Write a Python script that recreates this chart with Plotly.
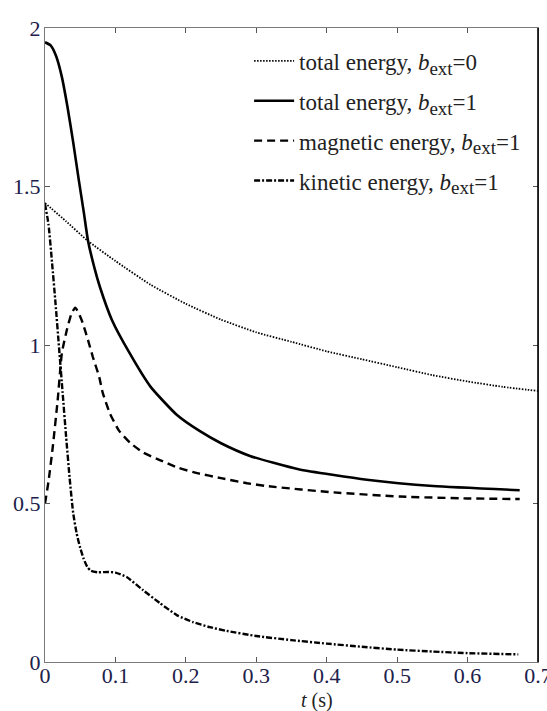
import plotly.graph_objects as go

# ---- data ----
t_total0 = [0, 0.03, 0.06, 0.10, 0.15, 0.20, 0.25, 0.30, 0.35, 0.40, 0.45, 0.50, 0.55, 0.60, 0.65, 0.70]
e_total0 = [1.448, 1.39, 1.33, 1.265, 1.19, 1.13, 1.08, 1.04, 1.01, 0.98, 0.955, 0.93, 0.905, 0.885, 0.868, 0.855]

t_total1 = [0, 0.008, 0.016, 0.024, 0.032, 0.040, 0.048, 0.055, 0.061, 0.070, 0.078, 0.095,
            0.12, 0.15, 0.187, 0.22, 0.25, 0.291, 0.36, 0.457, 0.551, 0.674]
e_total1 = [1.955, 1.945, 1.91, 1.845, 1.75, 1.64, 1.52, 1.42, 1.33, 1.245, 1.183, 1.079,
            0.975, 0.868, 0.78, 0.728, 0.69, 0.65, 0.608, 0.575, 0.555, 0.542]

t_mag1 = [0, 0.005, 0.011, 0.018, 0.024, 0.031, 0.037, 0.043, 0.052, 0.061, 0.068, 0.077, 0.082,
          0.092, 0.105, 0.121, 0.14, 0.163, 0.19, 0.216, 0.25, 0.287, 0.315, 0.41, 0.504, 0.60, 0.674]
e_mag1 = [0.5, 0.57, 0.678, 0.826, 0.975, 1.047, 1.095, 1.118, 1.079, 1.016, 0.962, 0.899, 0.849,
          0.785, 0.73, 0.691, 0.66, 0.637, 0.612, 0.596, 0.58, 0.564, 0.555, 0.535, 0.522, 0.516, 0.514]

t_kin1 = [0, 0.005, 0.010, 0.015, 0.020, 0.025, 0.030, 0.035, 0.040, 0.045, 0.050, 0.055, 0.060,
          0.065, 0.075, 0.090, 0.100, 0.116, 0.139, 0.163, 0.187, 0.21, 0.234, 0.258, 0.30, 0.35,
          0.40, 0.45, 0.50, 0.55, 0.60, 0.672]
e_kin1 = [1.445, 1.38, 1.26, 1.13, 0.99, 0.85, 0.71, 0.58, 0.47, 0.405, 0.36, 0.325, 0.30,
          0.288, 0.283, 0.284, 0.282, 0.268, 0.227, 0.186, 0.148, 0.126, 0.11, 0.098, 0.082, 0.069,
          0.058, 0.048, 0.039, 0.033, 0.028, 0.024]

SUB = '<sub><span style="font-size:19px">ext</span></sub>'
names = [
    "total energy, <i>b</i>" + SUB + "=0",
    "total energy, <i>b</i>" + SUB + "=1",
    "magnetic energy, <i>b</i>" + SUB + "=1",
    "kinetic energy, <i>b</i>" + SUB + "=1",
]

x_ticks = [0, 0.1, 0.2, 0.3, 0.4, 0.5, 0.6, 0.7]
x_ticktext = ["0", "0.1", "0.2", "0.3", "0.4", "0.5", "0.6", "0.7"]
y_ticks = [0, 0.5, 1, 1.5, 2]
y_ticktext = ["0", "0.5", "1", "1.5", "2"]

FONT = "Liberation Serif"
TICKCOL = "#20204a"

fig = go.Figure()
fig.add_trace(go.Scatter(x=t_total0, y=e_total0, mode="lines", name=names[0], legendgroup="a",
                         line=dict(color="black", width=1.8, dash="1.5px,1.5px", shape="spline", smoothing=0.5)))
fig.add_trace(go.Scatter(x=t_total1, y=e_total1, mode="lines", name=names[1], legendgroup="b",
                         line=dict(color="black", width=2.6, shape="spline", smoothing=0.5)))
fig.add_trace(go.Scatter(x=t_mag1, y=e_mag1, mode="lines", name=names[2], legendgroup="c",
                         line=dict(color="black", width=2.4, dash="8px,5px", shape="spline", smoothing=0.5)))
fig.add_trace(go.Scatter(x=t_kin1, y=e_kin1, mode="lines", name=names[3], legendgroup="d",
                         line=dict(color="black", width=2.4, dash="6px,2px,2px,2px", shape="spline", smoothing=0.5)))

axis_common = dict(
    showgrid=False, zeroline=False, showline=True, linecolor="#7a7a7a", linewidth=1,
    mirror="allticks", ticks="inside", ticklen=5, tickcolor="#555555", tickwidth=1,
    tickfont=dict(family=FONT, size=22, color=TICKCOL), automargin=False,
    ticklabeloverflow="allow",
)

fig.update_xaxes(range=[0, 0.7], tickvals=x_ticks, ticktext=x_ticktext,
                 ticklabelstandoff=-6, **axis_common)
fig.update_yaxes(range=[0, 2], tickvals=y_ticks, ticktext=y_ticktext,
                 ticklabelstandoff=-1, **axis_common)

# thicker dark right border
fig.add_shape(type="line", xref="paper", yref="paper", x0=1, x1=1, y0=0, y1=1,
              line=dict(color="black", width=1.6))

fig.add_annotation(text="<i>t</i> (s)", xref="paper", yref="paper", x=0.552, y=-0.06,
                   xanchor="center", yanchor="middle", showarrow=False,
                   font=dict(family=FONT, size=20, color="#222222"))

fig.update_layout(
    width=547, height=711,
    margin=dict(l=45, r=9, t=28, b=49),
    paper_bgcolor="white", plot_bgcolor="white",
    font=dict(family=FONT, color="#222222"),
    showlegend=True,
    legend=dict(x=0.414, y=0.982, xanchor="left", yanchor="top",
                bgcolor="rgba(0,0,0,0)", borderwidth=0,
                font=dict(family=FONT, size=23, color="#222222"),
                tracegroupgap=7, itemwidth=40),
)

fig.write_html("out.html", config={"displayModeBar": False},
               post_script="document.body.style.margin='0';document.body.style.overflow='hidden';")
